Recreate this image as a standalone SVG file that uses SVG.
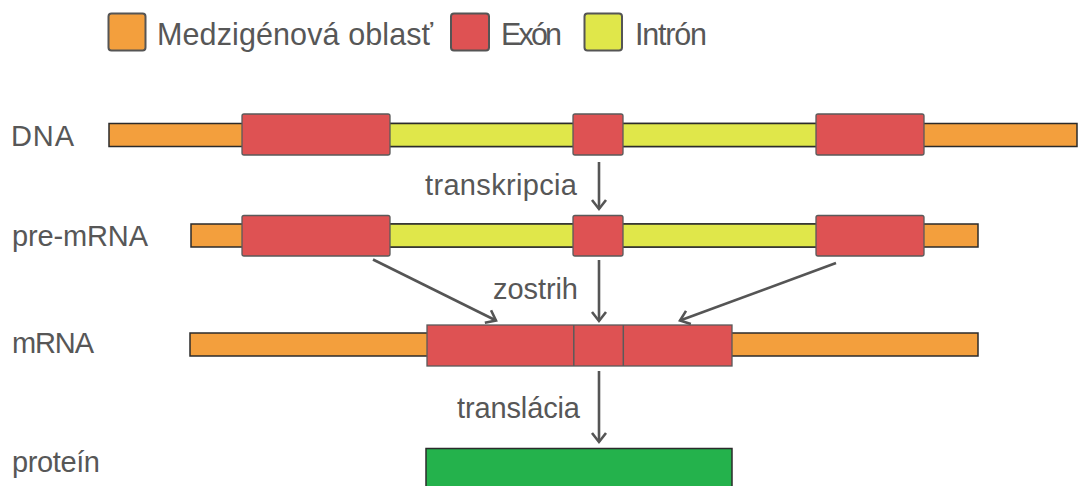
<svg xmlns="http://www.w3.org/2000/svg" width="1079" height="486" viewBox="0 0 1079 486">
<style>
  text { font-family: "Liberation Sans", Arial, sans-serif; fill: #575757; }
  .lbl { font-size: 29px; }
  .leg { font-size: 30.5px; }
  .ig { fill: #f39f3d; stroke: #2b2b2b; stroke-width: 1.5; }
  .ex { fill: #de5253; stroke: #5a5a5a; stroke-width: 1.3; }
  .in { fill: #e0e74a; stroke: #2b2b2b; stroke-width: 1.5; }
  .sw { stroke: #555; stroke-width: 2; }
  .pr { fill: #24b24c; stroke: #2b2b2b; stroke-width: 1.5; }
  .ar { stroke: #555; stroke-width: 2.6; fill: none; marker-end: url(#ah); }
</style>
<defs>
  <marker id="ah" markerUnits="userSpaceOnUse" markerWidth="20" markerHeight="20" viewBox="-12 -10 14 20" refX="0" refY="0" orient="auto" overflow="visible">
    <path d="M-9,-7 L0,0 L-9,7" fill="none" stroke="#555" stroke-width="2.6" stroke-linejoin="miter"/>
  </marker>
</defs>
<rect width="1079" height="486" fill="#ffffff"/>

<g id="legend">
  <rect class="ig sw" x="108.5" y="13.5" width="37" height="37" rx="3"/>
  <text class="leg" x="157" y="44.5" textLength="276">Medzigénová oblasť</text>
  <rect class="ex sw" x="451" y="13.5" width="38" height="37" rx="3"/>
  <text class="leg" x="501" y="44.5" textLength="61">Exón</text>
  <rect class="in sw" x="584.5" y="13.5" width="37.5" height="37" rx="3"/>
  <text class="leg" x="635" y="44.5" textLength="72">Intrón</text>
</g>

<g id="dna">
  <text class="lbl" x="11" y="146" textLength="63">DNA</text>
  <rect class="ig" x="109" y="123.5" width="968" height="23"/>
  <rect class="in" x="388" y="123.5" width="430" height="23"/>
  <rect class="ex" x="242" y="114" width="148" height="41" rx="2"/>
  <rect class="ex" x="573" y="114" width="50" height="41" rx="2"/>
  <rect class="ex" x="816" y="114" width="108" height="41" rx="2"/>
</g>

<g id="pre-mrna">
  <text class="lbl" x="12" y="246" textLength="136">pre-mRNA</text>
  <rect class="ig" x="191" y="224" width="787" height="23"/>
  <rect class="in" x="388" y="224" width="430" height="23"/>
  <rect class="ex" x="242" y="215.5" width="148" height="40.5" rx="2"/>
  <rect class="ex" x="573" y="215.5" width="50" height="40.5" rx="2"/>
  <rect class="ex" x="816" y="215.5" width="108" height="40.5" rx="2"/>
</g>

<g id="mrna">
  <text class="lbl" x="12" y="353" textLength="82">mRNA</text>
  <rect class="ig" x="190" y="333" width="788" height="23"/>
  <rect class="ex" x="427" y="325" width="305" height="41"/>
  <line x1="573.8" y1="325" x2="573.8" y2="366" stroke="#5a5a5a" stroke-width="1.5"/>
  <line x1="623.3" y1="325" x2="623.3" y2="366" stroke="#5a5a5a" stroke-width="1.5"/>
</g>

<g id="protein">
  <text class="lbl" x="12" y="472" textLength="88">proteín</text>
  <rect class="pr" x="426" y="448.5" width="306" height="45"/>
</g>

<g id="connectors">
  <line class="ar" x1="599" y1="162" x2="599" y2="209"/>
  <line class="ar" x1="599" y1="260" x2="599" y2="321"/>
  <line class="ar" x1="373" y1="259.5" x2="496" y2="320.5"/>
  <line class="ar" x1="836" y1="263" x2="680" y2="320.5"/>
  <line class="ar" x1="599" y1="371" x2="599" y2="442"/>
</g>

<g id="labels">
  <text class="lbl" x="425" y="195" textLength="152">transkripcia</text>
  <text class="lbl" x="493" y="299" textLength="85">zostrih</text>
  <text class="lbl" x="457" y="418" textLength="123">translácia</text>
</g>
</svg>
